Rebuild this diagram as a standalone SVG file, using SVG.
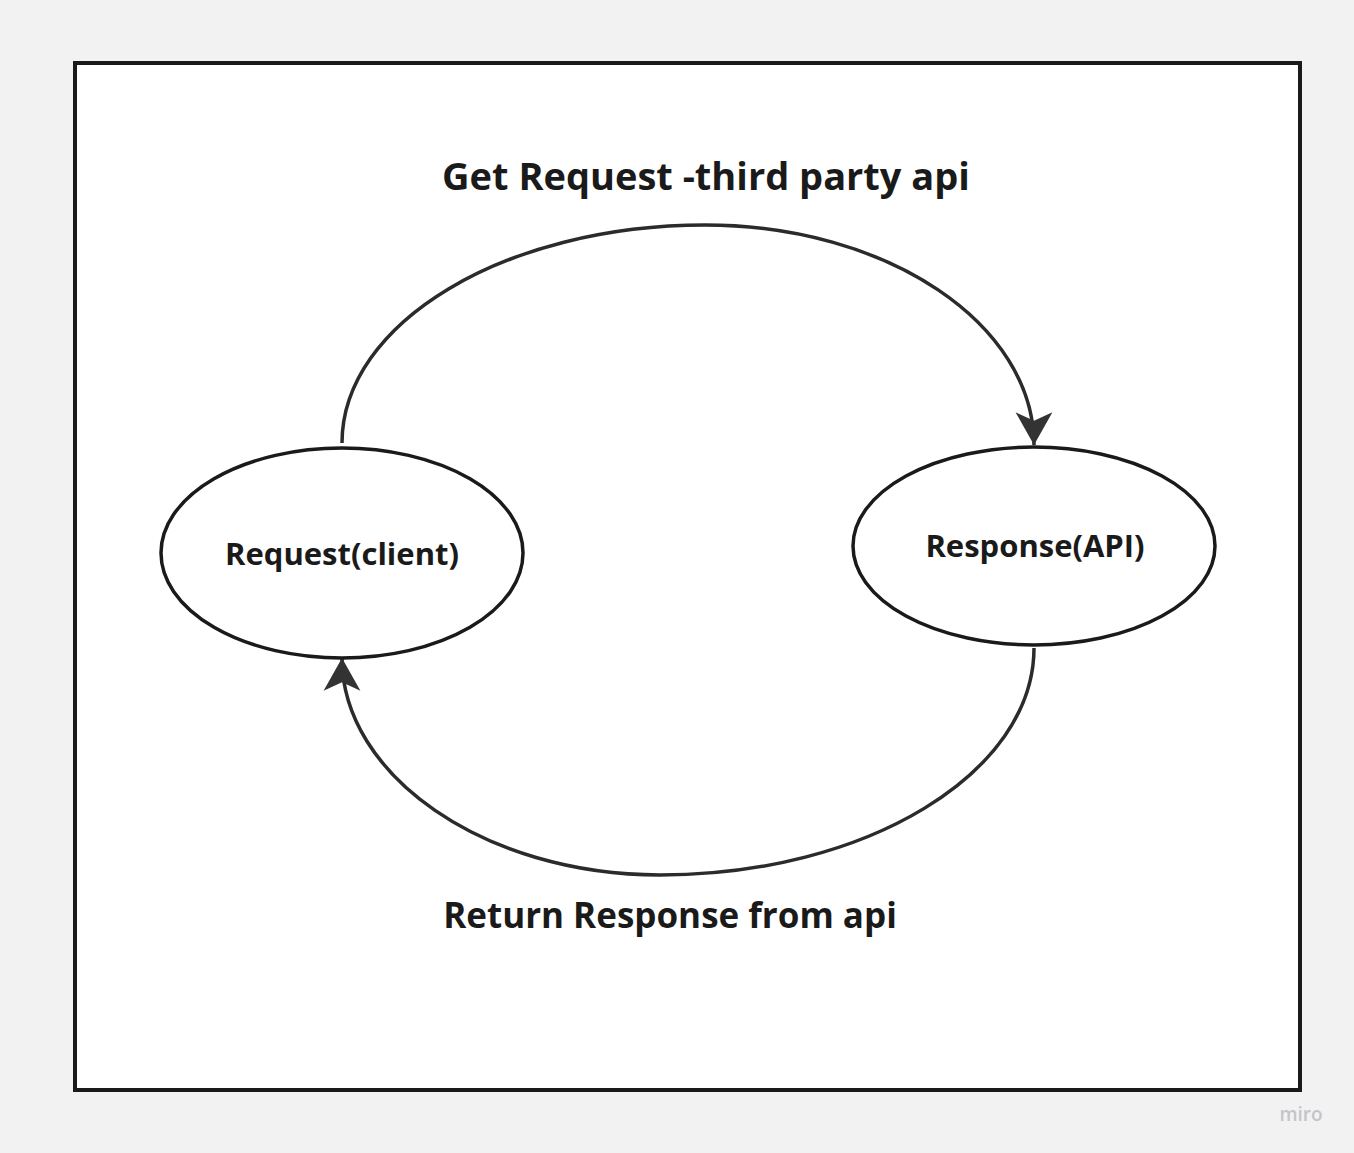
<svg xmlns="http://www.w3.org/2000/svg" width="1354" height="1153" viewBox="0 0 1354 1153">
<style>
.frame{fill:#ffffff;stroke:#1a1a1a;stroke-width:4}
.node{fill:#ffffff;stroke:#1a1a1a;stroke-width:3.5}
.edge{fill:none;stroke:#2b2b2b;stroke-width:3.5}
.lbl{font-family:"Open Sans","Noto Sans",sans-serif;font-weight:700;fill:#1a1a1a;text-anchor:middle}
</style>
<defs>
<marker id="arr" markerUnits="userSpaceOnUse" markerWidth="40" markerHeight="40" viewBox="-32 -19 34 38" refX="0" refY="0" orient="auto">
<path d="M0,0 L-31,-17.5 L-23,0 L-31,17.5 Z" fill="#333333"/>
</marker>
</defs>
<rect x="0" y="0" width="1354" height="1153" fill="#f2f2f2"/>
<rect class="frame" x="75" y="63" width="1225" height="1027"/>
<g id="edges">
<path class="edge" d="M342,443 C342,323 505,225 705,225 C887,225 1034,324 1034,445" marker-end="url(#arr)"/>
<path class="edge" d="M1034,648 C1034,773 866,875 660,875 C484,875 342,775 342,658" marker-end="url(#arr)"/>
</g>
<g id="node-request">
<ellipse class="node" cx="342" cy="553" rx="181" ry="105"/>
<text class="lbl" x="342" y="565" font-size="31">Request(client)</text>
</g>
<g id="node-response">
<ellipse class="node" cx="1034" cy="546" rx="181" ry="99"/>
<text class="lbl" x="1035" y="557" font-size="31">Response(API)</text>
</g>
<g id="labels">
<text class="lbl" x="706" y="190" font-size="38">Get Request -third party api</text>
<text class="lbl" x="670" y="928" font-size="35">Return Response from api</text>
</g>
<text x="1301" y="1121" font-family="'Open Sans','Noto Sans',sans-serif" font-size="19" fill="#c4c4c8" text-anchor="middle" font-weight="600">miro</text>
</svg>
